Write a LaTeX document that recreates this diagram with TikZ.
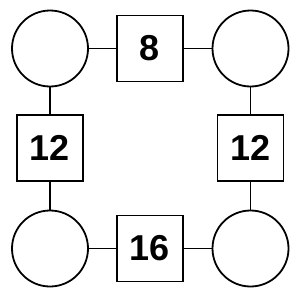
\documentclass[tikz,border=0pt]{standalone}
\usepackage{fontspec}
\setmainfont{Liberation Sans}
\usetikzlibrary{positioning}

\begin{document}
\begin{tikzpicture}[x=1pt,y=-1pt,
            ring/.style={draw,circle,line width=1.8pt,minimum size=76pt,inner sep=0pt},
            numbox/.style={draw,rectangle,line width=1.8pt,minimum size=66pt,inner sep=0pt,
                           font=\fontsize{36}{40}\selectfont\bfseries},
            link/.style={draw,line width=1.8pt}]
        \useasboundingbox (0,0) rectangle (300,300);
        % corners
        \node[ring] (tl) at (50,48.5) {};
        \node[ring] (tr) at (250.5,48.5) {};
        \node[ring] (bl) at (50,248.5) {};
        \node[ring] (br) at (250.5,248.5) {};
        % numbers
        \node[numbox] (top) at (150,48.5) {8};
        \node[numbox] (left) at (50,148) {12};
        \node[numbox] (right) at (250.5,148) {12};
        \node[numbox] (bottom) at (150,248.5) {16};
        \path[link] (tl) -- (top) (top) -- (tr)
                    (tl) -- (left) (left) -- (bl)
                    (tr) -- (right) (right) -- (br)
                    (bl) -- (bottom) (bottom) -- (br);
        \end{tikzpicture}
\end{document}
